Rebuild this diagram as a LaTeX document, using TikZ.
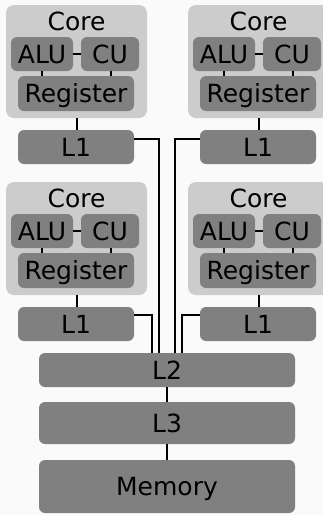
\documentclass[tikz,border=0pt]{standalone}
\usepackage{fontspec}
\setmainfont{DejaVu Sans}
\definecolor{bg}{HTML}{FAFAFA}
\definecolor{shell}{HTML}{CCCCCC}
\definecolor{unit}{HTML}{808080}
\begin{document}
\begin{tikzpicture}[x=1pt,y=-1pt,
  every node/.style={font=\fontsize{25}{30}\selectfont, text height=18pt, text depth=0pt, inner sep=0pt},
  shellbox/.style={fill=shell, rounded corners=8pt, minimum width=141pt, minimum height=113pt},
  unitbox/.style={fill=unit, rounded corners=6pt},
  link/.style={line width=2.2pt},
  bus/.style={line width=2.5pt},
  core/.pic={
    \node[shellbox] (core) at (70.5,56.5) {};
    \node (label) at (70.5,16) {Core};
    \node[unitbox, minimum width=62pt, minimum height=34pt] (alu) at (36,49) {ALU};
    \node[unitbox, minimum width=58pt, minimum height=34pt] (cu) at (104,49) {CU};
    \node[unitbox, minimum width=116pt, minimum height=35pt] (reg) at (70,88.5) {Register};
    \node[unitbox, minimum width=116pt, minimum height=34pt] (l1) at (70,142) {L1};
    \draw[link] (alu) -- (cu);
    \draw[link] (alu.south) -- (alu.south |- reg.north);
    \draw[link] ([xshift=1pt]cu.south) -- ([xshift=1pt]cu.south |- reg.north);
    \draw[link] ([xshift=1pt]l1.north |- core.south) -- ([xshift=1pt]l1.north);
  }]
\useasboundingbox (0,0) rectangle (323,515);
\fill[bg] (0,0) rectangle (323,515);
\clip (0,0) rectangle (323,515);

% four cores, each with its own L1 cache
\pic (c1-) at (6,5) {core};
\pic (c2-) at (188,5) {core};
\pic (c3-) at (6,182) {core};
\pic (c4-) at (188,182) {core};

% shared levels
\node[unitbox, minimum width=256pt, minimum height=34pt] (l2) at (167,370) {L2};
\node[unitbox, minimum width=256pt, minimum height=42pt] (l3) at (167,423) {L3};
\node[unitbox, minimum width=256pt, minimum height=53pt] (mem) at (167,486.5) {Memory};

\draw[link] (l2) -- (l3);
\draw[link] (l3) -- (mem);

% L1 to L2 bus
\draw[bus] ([yshift=8pt]c1-l1.east) -| ([xshift=-8pt]l2.north);
\draw[bus] ([yshift=8pt]c2-l1.west) -| ([xshift=8pt]l2.north);
\draw[bus] ([yshift=9pt]c3-l1.east) -| ([xshift=-15pt]l2.north);
\draw[bus] ([yshift=9pt]c4-l1.west) -| ([xshift=15pt]l2.north);
\end{tikzpicture}
\end{document}
